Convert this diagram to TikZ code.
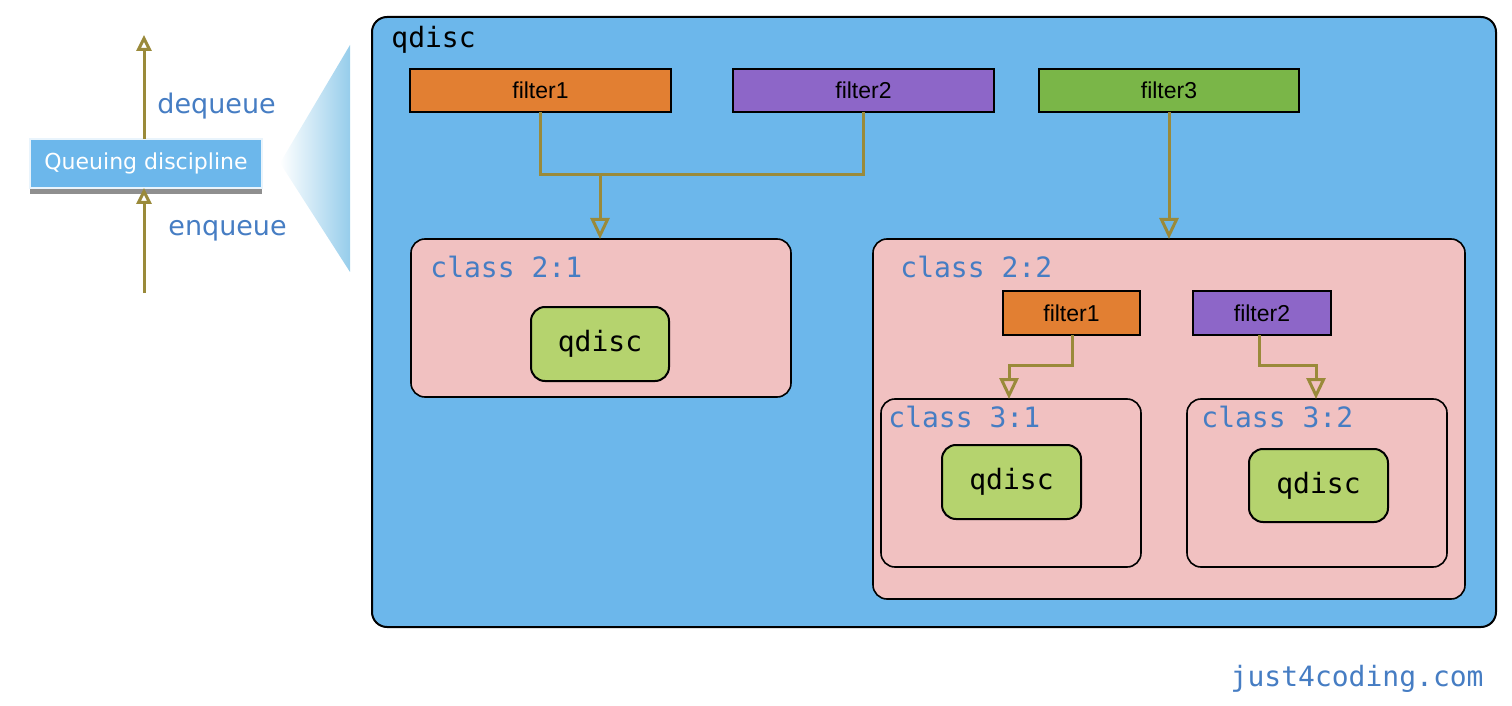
\documentclass[tikz,border=0pt]{standalone}
\usepackage{fontspec}
\setmainfont{Liberation Sans}
\newfontfamily\monof{DejaVu Sans Mono}
\newfontfamily\dejav{DejaVu Sans}
\usetikzlibrary{fit,arrows.meta,shadows}
\definecolor{qblue}{RGB}{108,183,235}
\definecolor{qpink}{RGB}{241,193,193}
\definecolor{qgreen}{RGB}{181,211,110}
\definecolor{forange}{RGB}{226,127,50}
\definecolor{fpurple}{RGB}{141,102,200}
\definecolor{fgreen}{RGB}{122,182,72}
\definecolor{olivec}{RGB}{154,138,58}
\definecolor{tblue}{RGB}{70,125,195}
\definecolor{trilight}{RGB}{150,205,235}
\begin{document}
\begin{tikzpicture}[x=0.5pt,y=-0.5pt,
  boxr/.style={draw=black, line width=1pt, inner sep=0pt, outer sep=0pt},
  outerbox/.style={boxr, fill=qblue, rounded corners=7.5pt},
  classbox/.style={boxr, fill=qpink, rounded corners=7pt, line width=0.8pt},
  qdbox/.style={boxr, fill=qgreen, rounded corners=7pt, font=\monof\fontsize{14}{16}\selectfont, text=black, minimum width=69.5pt, minimum height=37pt},
  filt/.style={boxr, font=\fontsize{11.5}{13}\selectfont, text=black, minimum height=21.5pt},
  monolab/.style={font=\monof\fontsize{14}{16}\selectfont, inner sep=0pt, anchor=base west},
  conn/.style={draw=olivec, line width=1.5pt},
  arr/.style={conn, -{Triangle[open, length=10.5pt, width=9.5pt]}},
  sarr/.style={conn, -{Triangle[open, length=8pt, width=7.5pt]}},
  qlab/.style={font=\dejav\fontsize{13.5}{15}\selectfont, text=tblue, inner sep=0pt, anchor=base west}
]
\useasboundingbox (0,0) rectangle (1512,706);

% left part
\shade[left color=white, right color=trilight] (280,163) -- (350,45) -- (350,272) -- cycle;
\node[draw=white!85!qblue, line width=0.6pt, fill=qblue, inner sep=0pt, outer sep=0pt,
  minimum width=116pt, minimum height=24.5pt,
  drop shadow={shadow xshift=0pt, shadow yshift=-3pt, opacity=0.55, fill=black!80},
  font=\dejav\fontsize{11}{13}\selectfont, text=white] (qd) at (146,163.5) {Queuing discipline};
\coordinate (inq) at (144,293);
\coordinate (outq) at (144,35);
\draw[sarr] (inq) -- (qd.south -| inq);
\draw[sarr] (qd.north -| inq) -- (outq);
\node[qlab] (deq) at (157,114) {dequeue};
\node[qlab] (enq) at (168,235) {enqueue};

% outer qdisc
\node[outerbox, fit={(372,17) (1496,627)}] (root) {};
\node[monolab] (rootlab) at (391,48) {qdisc};

\node[filt, fill=forange, minimum width=130.5pt] (f1) at (540.5,90.5) {filter1};
\node[filt, fill=fpurple, minimum width=130.5pt] (f2) at (863.5,90.5) {filter2};
\node[filt, fill=fgreen, minimum width=130pt] (f3) at (1169,90.5) {filter3};

% class 2:1
\node[classbox, fit={(411,239) (791,397)}] (c21) {};
\node[monolab, text=tblue] (c21lab) at (430,278) {class 2:1};
\node[qdbox, minimum width=69pt] (q21) at (600,344) {qdisc};

% class 2:2
\node[classbox, fit={(873,239) (1465,599)}] (c22) {};
\node[monolab, text=tblue] (c22lab) at (900,278) {class 2:2};
\node[filt, fill=forange, minimum width=68.5pt, minimum height=22pt] (g1) at (1071.5,313) {filter1};
\node[filt, fill=fpurple, minimum width=69pt, minimum height=22pt] (g2) at (1262,313) {filter2};

\node[classbox, fit={(881,399) (1141,567)}] (c31) {};
\node[monolab, text=tblue] (c31lab) at (888,427) {class 3:1};
\node[qdbox] (q31) at (1011.5,482) {qdisc};

\node[classbox, fit={(1187,399) (1447,567)}] (c32) {};
\node[monolab, text=tblue] (c32lab) at (1201,427) {class 3:2};
\node[qdbox, minimum height=36.5pt] (q32) at (1318.5,485.5) {qdisc};

% connectors
\coordinate (j1) at (600,175);
\draw[conn] (f1.south) |- (j1) -| (f2.south);
\draw[arr] (j1) -- (j1 |- c21.north);
\draw[arr] (f3.south) -- (f3.south |- c22.north);

\coordinate (j2) at (1072,365);
\coordinate (j3) at (1009,365);
\draw[arr] (g1.south -| j2) -- (j2) -- (j3) -- (j3 |- c31.north);
\coordinate (k2) at (1259,365);
\coordinate (k3) at (1316,365);
\draw[arr] (g2.south -| k2) -- (k2) -- (k3) -- (k3 |- c32.north);

\node[font=\monof\fontsize{14}{16}\selectfont, text=tblue, inner sep=0pt, anchor=base east] (site) at (1484,686) {just4coding.com};
\end{tikzpicture}
\end{document}
